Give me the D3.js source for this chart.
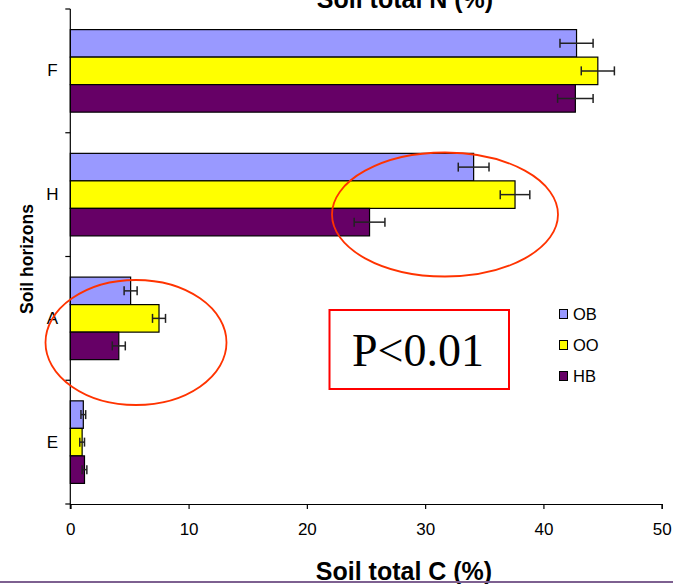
<!DOCTYPE html>
<html>
<head>
<meta charset="utf-8">
<script src="https://cdn.jsdelivr.net/npm/d3@7"></script>
<style>
  html, body { margin: 0; padding: 0; background: #fff; }
  svg { display: block; }
</style>
</head>
<body>
<svg id="chart" width="673" height="584"></svg>
<script>
// Soil horizons, top to bottom
const horizons = ["F", "H", "A", "E"];
// Stand types
const series = ["OB", "OO", "HB"];
const seriesColors = ["#9999FF", "#FFFF00", "#660066"];
// Soil total C (%) per horizon, one array per stand type
const valuesOB = [42.8, 34.1, 5.1, 1.1];
const valuesOO = [44.6, 37.6, 7.5, 1.0];
const valuesHB = [42.7, 25.3, 4.1, 1.2];
// Standard errors
const errorsOB = [1.4, 1.3, 0.55, 0.2];
const errorsOO = [1.4, 1.25, 0.55, 0.2];
const errorsHB = [1.5, 1.3, 0.55, 0.2];
const xTicks = [0, 10, 20, 30, 40, 50];

const values = [valuesOB, valuesOO, valuesHB];
const errors = [errorsOB, errorsOO, errorsHB];

const svg = d3.select("#chart");
const sans = "'Liberation Sans', Arial, sans-serif";

const x = d3.scaleLinear().domain([0, 50]).range([70.3, 661.7]);
const y = d3.scaleBand().domain(horizons).range([9, 504]).paddingInner(0.333).paddingOuter(0.1665);
const yInner = d3.scaleBand().domain(series).range([0, y.bandwidth()]);
const bandStep = y.step();

// Bars with error bars
series.forEach((s, si) => {
  const g = svg.append("g");
  horizons.forEach((h, hi) => {
    const v = values[si][hi], e = errors[si][hi];
    const y0 = y(h) + yInner(s);
    const bh = yInner.bandwidth();
    g.append("rect")
      .attr("x", x(0)).attr("y", y0)
      .attr("width", x(v) - x(0)).attr("height", bh)
      .attr("fill", seriesColors[si])
      .attr("stroke", "#000").attr("stroke-width", 1.2);
    const cy = y0 + bh / 2;
    const eb = g.append("g").attr("stroke", "#222").attr("stroke-width", 1.5).attr("fill", "none");
    eb.append("line").attr("x1", x(v - e)).attr("x2", x(v + e)).attr("y1", cy).attr("y2", cy);
    eb.append("line").attr("x1", x(v - e)).attr("x2", x(v - e)).attr("y1", cy - 4.5).attr("y2", cy + 4.5);
    eb.append("line").attr("x1", x(v + e)).attr("x2", x(v + e)).attr("y1", cy - 4.5).attr("y2", cy + 4.5);
  });
});

// Y axis: line with ticks at category boundaries
const yAxisG = svg.append("g").attr("stroke", "#000").attr("stroke-width", 1.2);
yAxisG.append("line").attr("x1", x(0)).attr("x2", x(0)).attr("y1", 9).attr("y2", 509);
d3.range(horizons.length + 1).forEach(i => {
  const yy = 9 + i * bandStep;
  yAxisG.append("line").attr("x1", x(0) - 5).attr("x2", x(0)).attr("y1", yy).attr("y2", yy);
});
svg.append("g").selectAll("text").data(horizons).join("text")
  .attr("x", 52.5).attr("y", d => y(d) + y.bandwidth() / 2)
  .attr("text-anchor", "middle").attr("dominant-baseline", "central")
  .attr("font-family", sans).attr("font-size", 17).attr("fill", "#000")
  .text(d => d);

// X axis
const xAxis = d3.axisBottom(x).tickValues(xTicks).tickSize(5).tickPadding(14).tickFormat(d3.format("d"));
const xg = svg.append("g").attr("transform", "translate(0,504)").call(xAxis);
xg.select(".domain").attr("stroke", "#000").attr("stroke-width", 1.2);
xg.selectAll(".tick line").attr("stroke", "#000").attr("stroke-width", 1.2);
xg.selectAll(".tick text").attr("font-family", sans).attr("font-size", 17).attr("fill", "#000");

// Axis titles
svg.append("text").attr("x", 404).attr("y", 580)
  .attr("text-anchor", "middle").attr("font-family", sans).attr("font-weight", "bold")
  .attr("font-size", 25).text("Soil total C (%)");
svg.append("text").attr("x", 405).attr("y", 8)
  .attr("text-anchor", "middle").attr("font-family", sans).attr("font-weight", "bold")
  .attr("font-size", 25).text("Soil total N (%)");
svg.append("text").attr("transform", "translate(33,259) rotate(-90)")
  .attr("text-anchor", "middle").attr("font-family", sans).attr("font-weight", "bold")
  .attr("font-size", 17.5).text("Soil horizons");

// Legend
const legend = svg.append("g");
series.forEach((s, i) => {
  const ly = 314 + i * 31;
  legend.append("rect").attr("x", 559.5).attr("y", ly - 4.5).attr("width", 8).attr("height", 9)
    .attr("fill", seriesColors[i]).attr("stroke", "#000").attr("stroke-width", 1);
  legend.append("text").attr("x", 573).attr("y", ly).attr("dominant-baseline", "central")
    .attr("font-family", sans).attr("font-size", 16.5).text(s);
});

// Highlight ellipses
svg.append("ellipse").attr("cx", 445).attr("cy", 214.5).attr("rx", 113).attr("ry", 62)
  .attr("fill", "none").attr("stroke", "#FF3300").attr("stroke-width", 1.8);
svg.append("ellipse").attr("cx", 136).attr("cy", 342.5).attr("rx", 90.5).attr("ry", 62.5)
  .attr("fill", "none").attr("stroke", "#FF3300").attr("stroke-width", 1.8);

// Significance box
svg.append("rect").attr("x", 329.5).attr("y", 310).attr("width", 179.5).attr("height", 79)
  .attr("fill", "#fff").attr("stroke", "#FF0000").attr("stroke-width", 2);
svg.append("text").attr("x", 418).attr("y", 366)
  .attr("text-anchor", "middle").attr("font-family", "'Liberation Serif', 'Times New Roman', serif")
  .attr("font-size", 46).text("P<0.01");

// Bottom border line
svg.append("line").attr("x1", 0).attr("x2", 673).attr("y1", 582).attr("y2", 582)
  .attr("stroke", "#7d6090").attr("stroke-width", 2);
</script>
</body>
</html>
